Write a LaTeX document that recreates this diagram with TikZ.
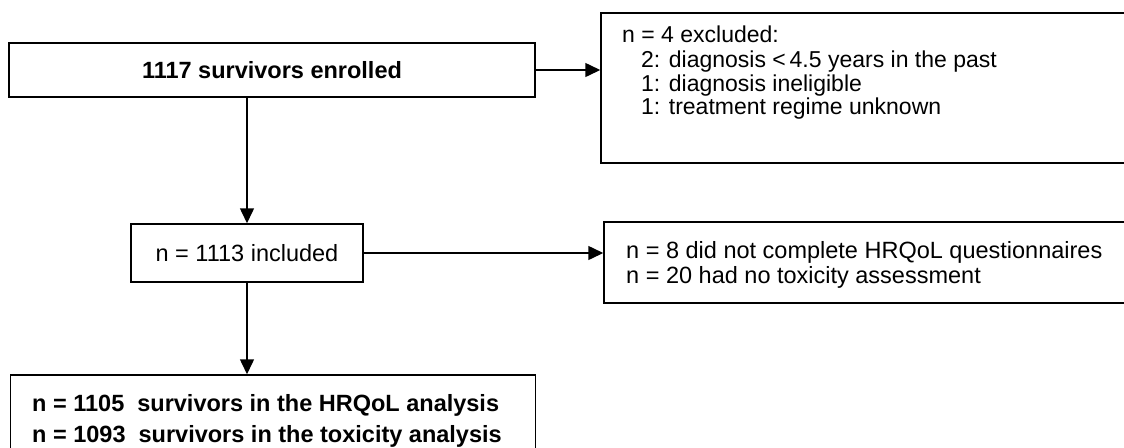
\documentclass[tikz,border=0pt]{standalone}
\usepackage{fontspec}
\setmainfont{Liberation Sans}
\usetikzlibrary{arrows.meta}
\tikzset{
  box/.style={draw=black, line width=1.5pt, rectangle, inner sep=0pt, fill=white},
  txt/.style={inner sep=0pt, anchor=west, font=\fontsize{23.5}{27}\selectfont},
  stxt/.style={inner sep=0pt, anchor=west, font=\fontsize{23}{27}\selectfont},
  btxt/.style={inner sep=0pt, anchor=west, font=\fontsize{23.5}{27}\selectfont\bfseries},
  arr/.style={line width=1.5pt, -{Triangle[length=15pt,width=14pt]}}
}
\begin{document}
\begin{tikzpicture}[x=1pt,y=-1pt]
\useasboundingbox (0,0) rectangle (1124,447);
% boxes
\node[box, minimum width=526pt, minimum height=54pt, font=\fontsize{23.5}{27}\selectfont\bfseries] (b1) at (272,70) {1117 survivors enrolled};
\node[box, minimum width=539pt, minimum height=150pt] (b2) at (870.5,88) {};
\node[box, minimum width=232pt, minimum height=58pt, font=\fontsize{23.5}{27}\selectfont] (b3) at (247,253) {n = 1113 included};
\node[box, minimum width=536pt, minimum height=81pt] (b4) at (872,262.5) {};
\node[box, minimum width=525pt, minimum height=120pt] (b5) at (273,435) {};
% texts in box 2
\node[stxt] (t21) at (622,34) {n = 4 excluded:};
\node[stxt] (t22) at (641,62) {2: diagnosis <\,4.5 years in the past};
\node[stxt] (t23) at (641,86) {1: diagnosis ineligible};
\node[stxt] (t24) at (641,109) {1: treatment regime unknown};
% texts in box 4
\node[txt] (t41) at (626,252) {n = 8 did not complete HRQoL questionnaires};
\node[txt] (t42) at (626,277) {n = 20 had no toxicity assessment};
% texts in box 5
\node[btxt] (t51) at (32,405) {n = 1105\ \ survivors in the HRQoL analysis};
\node[btxt] (t52) at (32,436) {n = 1093\ \ survivors in the toxicity analysis};
% connectors
\draw[arr] (b1.east) -- (b1.east -| b2.west);
\draw[arr] (b1.south -| b3.north) -- (b3.north);
\draw[arr] (b3.east) -- (b3.east -| b4.west);
\draw[arr] (b3.south) -- (b3.south |- b5.north);
\end{tikzpicture}
\end{document}
